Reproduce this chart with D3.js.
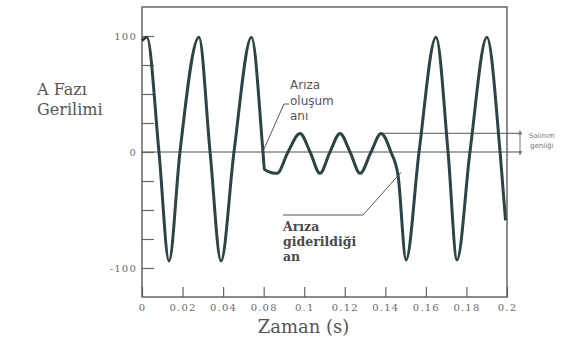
<!DOCTYPE html>
<html>
<head>
<meta charset="utf-8">
<script src="https://cdn.jsdelivr.net/npm/d3@7"></script>
<style>
  body { margin: 0; background: #fff; }
</style>
</head>
<body>
<div id="chart"></div>
<script>
'use strict';

// phase A voltage (extrema and zero crossings)
const time = [0, 0.0027, 0.0093, 0.0148, 0.0208, 0.0312, 0.0373, 0.0433, 0.0504, 0.0600,
  0.0663, 0.0671, 0.0740, 0.0800, 0.0866, 0.0921, 0.0975, 0.1030, 0.1085, 0.1140,
  0.1195, 0.1255, 0.1310, 0.1364, 0.1403, 0.1447, 0.1518, 0.1611, 0.1677, 0.1726,
  0.1797, 0.1890, 0.1962, 0.1992];
const voltage = [96, 99, 0, -94, 0, 99, 0, -94, 0, 99,
  0, -15, -18.4, 0, 16, 0, -18.4, 0, 16, 0,
  -18.4, 0, 16, 0, -20, -93, 0, 99, 0, -93,
  0, 99, 0, -59];

// the printed x labels (0.06 is missing on the original)
const xTickLabels = ["0", "0.02", "0.04", "0.08", "0.1", "0.12", "0.14", "0.16", "0.18", "0.2"];
const yTicks = [-100, -75, -50, -25, 0, 25, 50, 75, 100];
const yTickLabels = ["-100", "0", "100"];

const faultStart = 0.0663;   // Arıza oluşum anı
const faultEnd = 0.1403;     // Arıza giderildiği an
const swingTop = 16;         // last sag peak level
const swingTopTime = 0.1310;

const width = 568, height = 342;
const margin = { top: 7, right: 61, bottom: 45, left: 142 };

const svg = d3.select("#chart").append("svg")
    .attr("width", width)
    .attr("height", height)
    .style("font-family", "'DejaVu Serif', serif");

const x = d3.scaleLinear().domain([0, 0.2]).range([margin.left, width - margin.right]);
const y = d3.scaleLinear().domain([-125, 125]).range([height - margin.bottom, margin.top]);

// zero line, runs a bit past the frame
svg.append("line")
    .attr("x1", x(0)).attr("x2", 522)
    .attr("y1", y(0)).attr("y2", y(0))
    .attr("stroke", "#8a8a8a").attr("stroke-width", 1.4);

// amplitude marker line
svg.append("line")
    .attr("x1", x(swingTopTime)).attr("x2", 522)
    .attr("y1", y(swingTop)).attr("y2", y(swingTop))
    .attr("stroke", "#777").attr("stroke-width", 1.2);

// axes
const xTickValues = d3.range(xTickLabels.length).map(i => i * 0.2 / (xTickLabels.length - 1));
const xAxis = svg.append("g")
    .attr("transform", `translate(0,${height - margin.bottom})`)
    .call(d3.axisBottom(x)
        .tickValues(xTickValues)
        .tickFormat((d, i) => xTickLabels[i])
        .tickSize(-10)
        .tickSizeOuter(0)
        .tickPadding(7));
xAxis.select(".domain").remove();

const yAxis = svg.append("g")
    .attr("transform", `translate(${margin.left},0)`)
    .call(d3.axisLeft(y)
        .tickValues(yTicks)
        .tickFormat(d => yTickLabels.includes(String(d)) ? String(d) : "")
        .tickSize(-12)
        .tickSizeOuter(0)
        .tickPadding(5));
yAxis.select(".domain").remove();

svg.selectAll(".tick line").attr("stroke", "#666").attr("stroke-width", 1.2);
svg.selectAll(".tick text")
    .attr("fill", "#6a6a6a")
    .style("font-size", "10px")
    .style("letter-spacing", "1.2px")
    .style("font-family", "'DejaVu Serif', serif");

// frame
svg.append("rect")
    .attr("x", x(0)).attr("y", margin.top)
    .attr("width", x(0.2) - x(0))
    .attr("height", height - margin.bottom - margin.top)
    .attr("fill", "none")
    .attr("stroke", "#5a5a5a")
    .attr("stroke-width", 1.4);

// waveform
const line = d3.line()
    .x(d => x(d[0]))
    .y(d => y(d[1]))
    .curve(d3.curveMonotoneX);
svg.append("path")
    .attr("d", line(d3.zip(time, voltage)))
    .attr("fill", "none")
    .attr("stroke", "#2e4343")
    .attr("stroke-width", 3);

// axis titles
const yTitle = svg.append("text")
    .attr("fill", "#555")
    .style("font-size", "16px");
yTitle.append("tspan").attr("x", 37).attr("y", 95).text("A Fazı");
yTitle.append("tspan").attr("x", 37).attr("y", 115).text("Gerilimi");

svg.append("text")
    .attr("x", (x(0) + x(0.2)) / 2 - 21)
    .attr("y", 333)
    .attr("text-anchor", "middle")
    .attr("fill", "#555")
    .style("font-size", "18px")
    .text("Zaman (s)");

// annotation: fault start
const fx = x(faultStart), fy = y(0);
svg.append("path")
    .attr("d", `M${fx + 26},${fy - 48} L${fx + 21},${fy - 48} L${fx + 1},${fy - 3}`)
    .attr("fill", "none").attr("stroke", "#555").attr("stroke-width", 1);
const ann1 = svg.append("text")
    .attr("fill", "#555")
    .style("font-family", "'DejaVu Sans', sans-serif")
    .style("font-size", "12px");
ann1.append("tspan").attr("x", fx + 27).attr("y", 89).text("Arıza");
ann1.append("tspan").attr("x", fx + 27).attr("y", 105).text("oluşum");
ann1.append("tspan").attr("x", fx + 27).attr("y", 120).text("anı");

// annotation: fault cleared
const ex = x(faultEnd), ey = y(-20);
svg.append("path")
    .attr("d", `M${ex + 3},${ey - 3} L${ex - 35},215 L283,215`)
    .attr("fill", "none").attr("stroke", "#555").attr("stroke-width", 1);
const ann2 = svg.append("text")
    .attr("fill", "#4a4a4a")
    .style("font-size", "12.5px")
    .style("font-weight", "600");
ann2.append("tspan").attr("x", 283).attr("y", 231).text("Arıza");
ann2.append("tspan").attr("x", 283).attr("y", 246).text("giderildiği");
ann2.append("tspan").attr("x", 283).attr("y", 261).text("an");

// amplitude dimension arrow
const ax = 520;
svg.append("line")
    .attr("x1", ax).attr("x2", ax)
    .attr("y1", y(swingTop) - 3).attr("y2", y(0) + 3)
    .attr("stroke", "#777").attr("stroke-width", 1);
[[y(swingTop) - 3, 1], [y(0) + 3, -1]].forEach(([py, dir]) => {
  svg.append("path")
      .attr("d", `M${ax},${py} L${ax - 2},${py + dir * 4} L${ax + 2},${py + dir * 4} Z`)
      .attr("fill", "#777");
});
const ann3 = svg.append("text")
    .attr("fill", "#777")
    .style("font-family", "'DejaVu Sans', sans-serif")
    .style("font-size", "7px");
ann3.append("tspan").attr("x", 529).attr("y", 138).text("Salınım");
ann3.append("tspan").attr("x", 530).attr("y", 148).text("genliği");
</script>
</body>
</html>
